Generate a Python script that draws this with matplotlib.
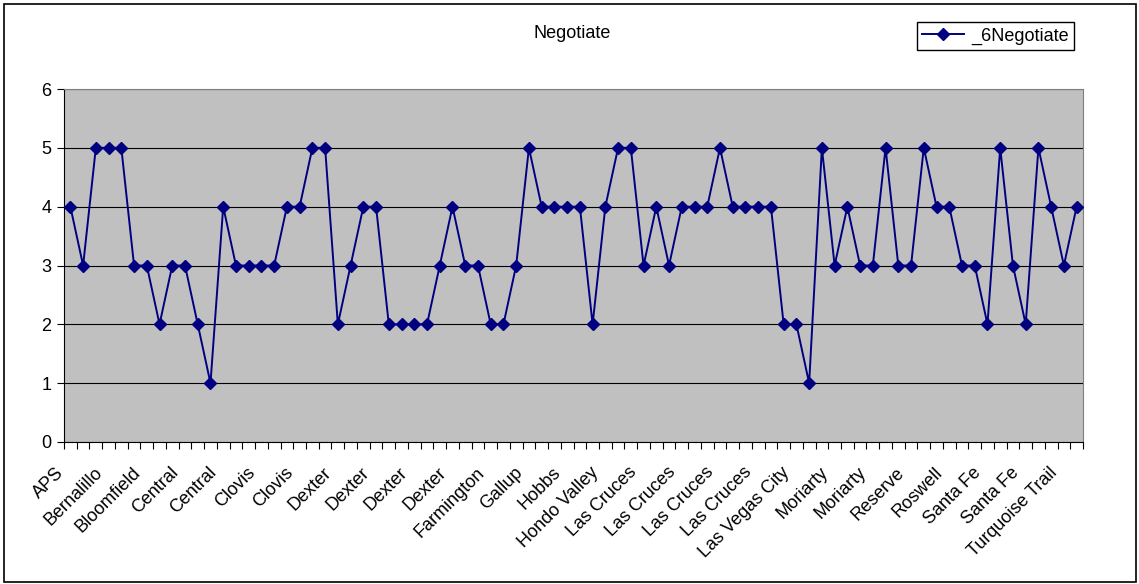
import numpy as np
import matplotlib.pyplot as plt
from matplotlib.patches import Rectangle
from matplotlib.transforms import ScaledTranslation

plt.rcParams['font.family'] = ['Liberation Sans', 'DejaVu Sans']

# values per district (80 responses, in sheet order)
values = [
    4, 3, 5, 5, 5, 3, 3, 2, 3, 3, 2, 1, 4, 3, 3, 3, 3, 4, 4, 5,
    5, 2, 3, 4, 4, 2, 2, 2, 2, 3, 4, 3, 3, 2, 2, 3, 5, 4, 4, 4,
    4, 2, 4, 5, 5, 3, 4, 3, 4, 4, 4, 5, 4, 4, 4, 4, 2, 2, 1, 5,
    3, 4, 3, 3, 5, 3, 3, 5, 4, 4, 3, 3, 2, 5, 3, 2, 5, 4, 3, 4,
]

# only every third category name is printed on the axis
tick_labels = [
    "APS", "Bernalillo", "Bloomfield", "Central", "Central", "Clovis",
    "Clovis", "Dexter", "Dexter", "Dexter", "Dexter", "Farmington",
    "Gallup", "Hobbs", "Hondo Valley", "Las Cruces", "Las Cruces",
    "Las Cruces", "Las Cruces", "Las Vegas City", "Moriarty", "Moriarty",
    "Reserve", "Roswell", "Santa Fe", "Santa Fe", "Turquoise Trail",
]
label_step = 3
series_name = "_6Negotiate"

FS = 13
W, H = 1139, 584
fig = plt.figure(figsize=(W / 100, H / 100), dpi=100)
ax = fig.add_axes([64 / W, 1 - 442 / H, (1083 - 64) / W, (442 - 89) / H])

x = np.arange(len(values))
line, = ax.plot(x, values, color="#000080", linewidth=1.4, marker="D",
                markersize=6, zorder=3)

ax.set_facecolor("#C0C0C0")
ax.set_xlim(-0.5, len(values) - 0.5)
ax.set_ylim(0, 6)
ax.set_yticks(range(0, 7))
ax.yaxis.grid(True, color="black", linewidth=0.8)
ax.set_axisbelow(True)

# category boundary ticks; names under every third category
ax.set_xticks(np.arange(-0.5, len(values)), minor=True)
ax.set_xticks([])
ax.tick_params(axis="x", which="minor", length=5, width=0.8, direction="out")
ax.tick_params(axis="y", length=5, width=0.8, labelsize=FS, pad=4)

label_off = ScaledTranslation(-9 / 100, -28 / 100, fig.dpi_scale_trans)
for pos, name in zip(x[::label_step], tick_labels):
    ax.text(pos, 0, name, transform=ax.get_xaxis_transform() + label_off,
            rotation=45, ha="right", va="center", rotation_mode="anchor",
            fontsize=FS, clip_on=False)

for side in ["top", "right"]:
    ax.spines[side].set_color("#808080")
for side in ["left", "bottom"]:
    ax.spines[side].set_color("black")

fig.text(572 / W, 1 - 33 / H, "Negotiate", ha="center", va="center", fontsize=FS)

fig.legend([line], [series_name], loc="upper right",
           bbox_to_anchor=(1074 / W, 1 - 22 / H),
           fancybox=False, edgecolor="black", framealpha=1, fontsize=FS,
           borderpad=0.3, handlelength=2.3, handletextpad=0.4, borderaxespad=0)

fig.patches.append(Rectangle((4 / W, 2 / H), (W - 7) / W, (H - 6) / H,
                             transform=fig.transFigure, fill=False,
                             edgecolor="black", linewidth=1.2))

plt.savefig("out.png", dpi=100)
